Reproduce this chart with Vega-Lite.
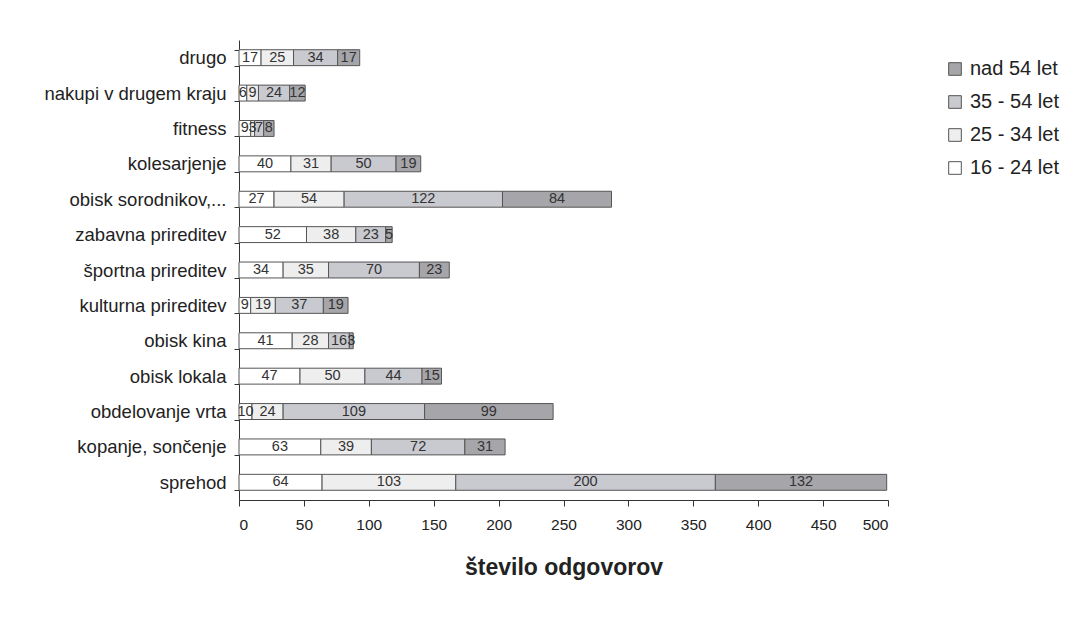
{
  "$schema": "https://vega.github.io/schema/vega-lite/v6.json",
  "width": 649,
  "height": 460,
  "autosize": "none",
  "padding": {"left": 239, "top": 40, "right": 188, "bottom": 130},
  "background": "white",
  "config": {"view": {"stroke": null}, "font": "Liberation Sans"},
  "data": {
    "values": [
      {"activity": "drugo", "group": "16 - 24 let", "value": 17},
      {"activity": "drugo", "group": "25 - 34 let", "value": 25},
      {"activity": "drugo", "group": "35 - 54 let", "value": 34},
      {"activity": "drugo", "group": "nad 54 let", "value": 17},
      {"activity": "nakupi v drugem kraju", "group": "16 - 24 let", "value": 6},
      {"activity": "nakupi v drugem kraju", "group": "25 - 34 let", "value": 9},
      {"activity": "nakupi v drugem kraju", "group": "35 - 54 let", "value": 24},
      {"activity": "nakupi v drugem kraju", "group": "nad 54 let", "value": 12},
      {"activity": "fitness", "group": "16 - 24 let", "value": 9},
      {"activity": "fitness", "group": "25 - 34 let", "value": 3},
      {"activity": "fitness", "group": "35 - 54 let", "value": 7},
      {"activity": "fitness", "group": "nad 54 let", "value": 8},
      {"activity": "kolesarjenje", "group": "16 - 24 let", "value": 40},
      {"activity": "kolesarjenje", "group": "25 - 34 let", "value": 31},
      {"activity": "kolesarjenje", "group": "35 - 54 let", "value": 50},
      {"activity": "kolesarjenje", "group": "nad 54 let", "value": 19},
      {"activity": "obisk sorodnikov,...", "group": "16 - 24 let", "value": 27},
      {"activity": "obisk sorodnikov,...", "group": "25 - 34 let", "value": 54},
      {"activity": "obisk sorodnikov,...", "group": "35 - 54 let", "value": 122},
      {"activity": "obisk sorodnikov,...", "group": "nad 54 let", "value": 84},
      {"activity": "zabavna prireditev", "group": "16 - 24 let", "value": 52},
      {"activity": "zabavna prireditev", "group": "25 - 34 let", "value": 38},
      {"activity": "zabavna prireditev", "group": "35 - 54 let", "value": 23},
      {"activity": "zabavna prireditev", "group": "nad 54 let", "value": 5},
      {"activity": "športna prireditev", "group": "16 - 24 let", "value": 34},
      {"activity": "športna prireditev", "group": "25 - 34 let", "value": 35},
      {"activity": "športna prireditev", "group": "35 - 54 let", "value": 70},
      {"activity": "športna prireditev", "group": "nad 54 let", "value": 23},
      {"activity": "kulturna prireditev", "group": "16 - 24 let", "value": 9},
      {"activity": "kulturna prireditev", "group": "25 - 34 let", "value": 19},
      {"activity": "kulturna prireditev", "group": "35 - 54 let", "value": 37},
      {"activity": "kulturna prireditev", "group": "nad 54 let", "value": 19},
      {"activity": "obisk kina", "group": "16 - 24 let", "value": 41},
      {"activity": "obisk kina", "group": "25 - 34 let", "value": 28},
      {"activity": "obisk kina", "group": "35 - 54 let", "value": 16},
      {"activity": "obisk kina", "group": "nad 54 let", "value": 3},
      {"activity": "obisk lokala", "group": "16 - 24 let", "value": 47},
      {"activity": "obisk lokala", "group": "25 - 34 let", "value": 50},
      {"activity": "obisk lokala", "group": "35 - 54 let", "value": 44},
      {"activity": "obisk lokala", "group": "nad 54 let", "value": 15},
      {"activity": "obdelovanje vrta", "group": "16 - 24 let", "value": 10},
      {"activity": "obdelovanje vrta", "group": "25 - 34 let", "value": 24},
      {"activity": "obdelovanje vrta", "group": "35 - 54 let", "value": 109},
      {"activity": "obdelovanje vrta", "group": "nad 54 let", "value": 99},
      {"activity": "kopanje, sončenje", "group": "16 - 24 let", "value": 63},
      {"activity": "kopanje, sončenje", "group": "25 - 34 let", "value": 39},
      {"activity": "kopanje, sončenje", "group": "35 - 54 let", "value": 72},
      {"activity": "kopanje, sončenje", "group": "nad 54 let", "value": 31},
      {"activity": "sprehod", "group": "16 - 24 let", "value": 64},
      {"activity": "sprehod", "group": "25 - 34 let", "value": 103},
      {"activity": "sprehod", "group": "35 - 54 let", "value": 200},
      {"activity": "sprehod", "group": "nad 54 let", "value": 132}
    ]
  },
  "transform": [
    {"stack": "value", "groupby": ["activity"], "sort": [{"field": "group", "order": "ascending"}], "as": ["v0", "v1"]},
    {"calculate": "(datum.v0 + datum.v1) / 2", "as": "mid"}
  ],
  "encoding": {
    "y": {
      "field": "activity",
      "type": "nominal",
      "sort": ["drugo", "nakupi v drugem kraju", "fitness", "kolesarjenje", "obisk sorodnikov,...", "zabavna prireditev", "športna prireditev", "kulturna prireditev", "obisk kina", "obisk lokala", "obdelovanje vrta", "kopanje, sončenje", "sprehod"],
      "scale": {"paddingInner": 0.55, "paddingOuter": 0.275},
      "axis": {
        "title": null,
        "tickBand": "extent",
        "tickSize": 5,
        "tickColor": "#333",
        "domainColor": "#333",
        "labelFontSize": 18.5,
        "labelColor": "#222",
        "labelPadding": 8,
        "labelLimit": 300
      }
    }
  },
  "layer": [
    {
      "mark": {"type": "bar", "stroke": "#555", "strokeWidth": 1},
      "encoding": {
        "x": {
          "field": "v0",
          "type": "quantitative",
          "scale": {"domain": [0, 500]},
          "axis": {
            "title": "število odgovorov",
            "titleFontSize": 23,
            "titleFontWeight": "bold",
            "titleColor": "#222",
            "titlePadding": 24,
            "grid": false,
            "values": [0, 50, 100, 150, 200, 250, 300, 350, 400, 450, 500],
            "tickSize": 6,
            "tickColor": "#333",
            "domainColor": "#333",
            "labelFontSize": 15.5,
            "labelColor": "#222",
            "labelPadding": 11
          }
        },
        "x2": {"field": "v1"},
        "fill": {
          "field": "group",
          "type": "nominal",
          "scale": {
            "domain": ["16 - 24 let", "25 - 34 let", "35 - 54 let", "nad 54 let"],
            "range": ["#ffffff", "#eeeeee", "#c9c9d0", "#a6a6aa"]
          },
          "legend": {
            "title": null,
            "orient": "none",
            "legendX": 706,
            "legendY": 19,
            "values": ["nad 54 let", "35 - 54 let", "25 - 34 let", "16 - 24 let"],
            "symbolType": "square",
            "symbolSize": 160,
            "symbolStrokeColor": "#555",
            "symbolStrokeWidth": 1,
            "labelFontSize": 20,
            "labelColor": "#222",
            "labelOffset": 5,
            "rowPadding": 13
          }
        }
      }
    },
    {
      "mark": {"type": "text", "fontSize": 14.5, "color": "#333", "baseline": "middle"},
      "encoding": {
        "x": {"field": "mid", "type": "quantitative"},
        "text": {"field": "value", "type": "quantitative"}
      }
    }
  ]
}
